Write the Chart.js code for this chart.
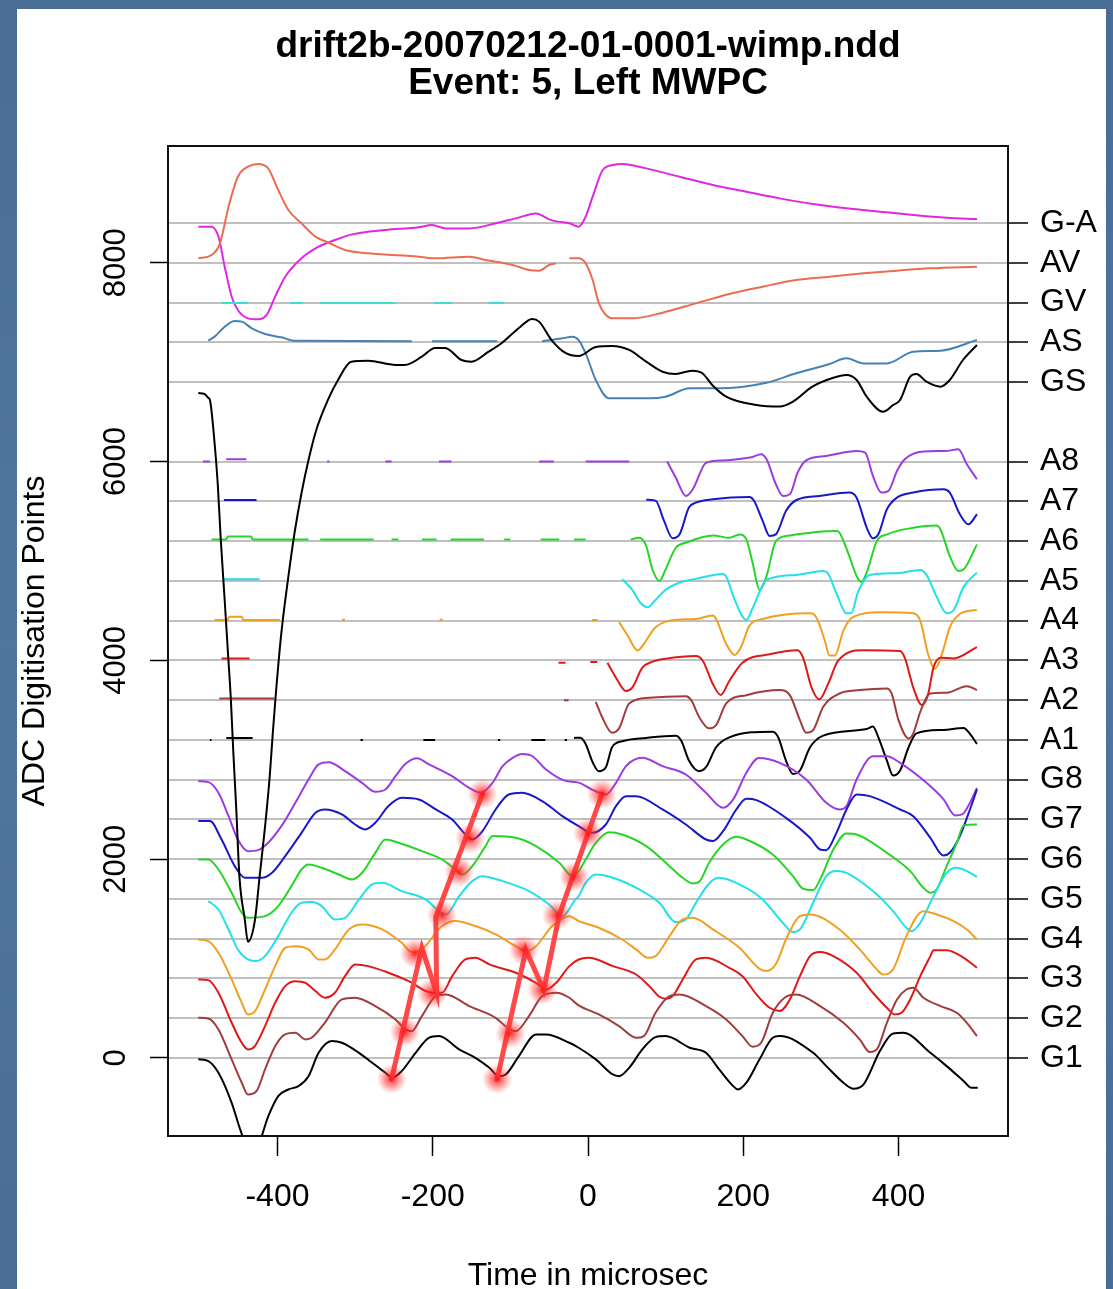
<!DOCTYPE html>
<html><head><meta charset="utf-8">
<script src="https://cdn.jsdelivr.net/npm/chart.js@4.4.1/dist/chart.umd.min.js"></script>
<style>
html,body{margin:0;padding:0;}
body{width:1113px;height:1289px;background:linear-gradient(180deg,#4a6d96,#50769f 50%,#4a6d96);position:relative;overflow:hidden;}
#panel{position:absolute;left:17px;top:9px;width:1089px;height:1280px;background:#fff;}
#c{position:absolute;left:0;top:0;}
</style></head>
<body><div id="panel"></div><canvas id="c" width="1113" height="1289"></canvas>
<script>
// ---------- text ----------
const titleLines = ['drift2b-20070212-01-0001-wimp.ndd', 'Event: 5, Left MWPC'];
const xTitle = 'Time in microsec';
const yTitle = 'ADC Digitisation Points';
const xTickValues = [-400, -200, 0, 200, 400];
const yTickValues = [0, 2000, 4000, 6000, 8000];
const yTickLabels = ['0', '2000', '4000', '6000', '8000'];
const channelNames = ['G1','G2','G3','G4','G5','G6','G7','G8','A1','A2','A3','A4','A5','A6','A7','A8','GS','AS','GV','AV','G-A'];
const channelBaselines = [0,400,800,1200,1600,2000,2400,2800,3200,3600,4000,4400,4800,5200,5600,6000,6800,7200,7600,8000,8400];

// ---------- traces: [time (microsec), ADC value]; null = no sample drawn ----------
const G1 = [[-502,-14],[-489,-31],[-476,-149],[-459,-451],[-448,-719],[-440,-880],[-432,-920],[-424,-860],[-412,-590],[-399,-384],[-386,-317],[-373,-283],[-360,-183],[-347,52],[-330,170],[-317,153],[-295,52],[-278,-48],[-261,-149],[-252,-199],[-240,-132],[-222,52],[-205,203],[-192,220],[-166,86],[-145,2],[-127,-99],[-115,-183],[-106,-166],[-89,19],[-67,237],[-54,237],[-24,153],[-12,103],[10,-14],[32,-166],[40,-183],[53,-99],[70,86],[87,210],[100,220],[131,103],[152,52],[169,-115],[187,-283],[193,-317],[204,-249],[221,-14],[238,203],[247,220],[290,52],[307,-82],[329,-249],[342,-310],[355,-266],[376,69],[393,247],[406,253],[441,52],[462,-82],[484,-233],[494,-300],[502,-300]];
const G2 = [[-502,404],[-489,398],[-476,287],[-459,-15],[-446,-249],[-438,-367],[-427,-333],[-416,-115],[-403,119],[-390,237],[-377,253],[-364,187],[-356,203],[-339,354],[-317,589],[-300,606],[-274,522],[-248,388],[-235,287],[-227,270],[-214,421],[-196,622],[-183,639],[-153,522],[-119,404],[-102,294],[-93,270],[-76,421],[-59,622],[-41,656],[-24,606],[-12,529],[14,438],[40,321],[62,203],[72,220],[87,455],[105,622],[118,639],[152,522],[178,388],[199,220],[212,113],[223,153],[238,455],[255,616],[268,639],[299,522],[329,354],[350,187],[363,59],[372,86],[385,354],[398,589],[410,689],[419,706],[432,606],[454,522],[475,455],[488,354],[501,220]];
const G3 = [[-502,790],[-489,783],[-476,656],[-459,354],[-446,153],[-438,86],[-429,120],[-416,321],[-403,555],[-390,723],[-377,773],[-364,756],[-351,673],[-339,606],[-326,656],[-313,823],[-300,941],[-283,924],[-257,857],[-231,773],[-201,656],[-188,656],[-175,823],[-158,991],[-145,1008],[-127,941],[-93,857],[-67,756],[-54,689],[-41,756],[-24,924],[-12,991],[1,1008],[32,924],[62,840],[79,723],[92,616],[100,596],[109,622],[122,790],[139,991],[152,1008],[182,907],[199,823],[217,639],[234,505],[247,472],[260,589],[273,823],[286,1025],[299,1065],[316,1025],[346,857],[367,656],[385,505],[395,438],[404,455],[415,589],[428,823],[441,1025],[445,1085],[462,1085],[484,1008],[501,907]];
const G4 = [[-502,1192],[-489,1176],[-476,1058],[-459,790],[-446,555],[-438,438],[-429,471],[-416,689],[-403,924],[-390,1109],[-377,1125],[-360,1092],[-347,991],[-339,991],[-326,1092],[-308,1293],[-291,1343],[-265,1293],[-240,1159],[-227,1065],[-214,1092],[-188,1327],[-171,1377],[-145,1327],[-119,1243],[-93,1125],[-80,1075],[-67,1125],[-46,1327],[-24,1427],[-12,1377],[14,1310],[44,1192],[62,1092],[77,1008],[87,1025],[105,1226],[122,1394],[135,1410],[161,1293],[195,1109],[221,897],[230,874],[243,958],[255,1192],[273,1427],[286,1444],[324,1293],[350,1092],[372,891],[380,840],[393,891],[410,1226],[432,1477],[449,1444],[471,1377],[488,1293],[501,1192]];
const G5 = [[-489,1578],[-476,1494],[-463,1293],[-451,1092],[-438,991],[-429,975],[-416,1025],[-399,1226],[-382,1461],[-369,1561],[-356,1568],[-343,1528],[-326,1394],[-313,1410],[-295,1595],[-278,1746],[-265,1762],[-240,1679],[-209,1595],[-192,1477],[-183,1444],[-166,1628],[-149,1779],[-136,1829],[-110,1779],[-76,1679],[-50,1544],[-33,1427],[-16,1595],[-12,1628],[-3,1762],[10,1846],[32,1813],[66,1695],[92,1561],[113,1367],[126,1394],[139,1561],[156,1756],[169,1813],[195,1746],[225,1595],[251,1360],[264,1266],[273,1293],[290,1561],[307,1829],[320,1880],[333,1863],[367,1679],[393,1477],[410,1310],[417,1276],[428,1360],[445,1628],[462,1863],[475,1913],[488,1880],[501,1823]];
const G6 = [[-502,1997],[-489,1997],[-476,1896],[-459,1662],[-446,1461],[-438,1410],[-416,1427],[-399,1528],[-382,1729],[-369,1896],[-360,1947],[-343,1913],[-321,1846],[-304,1796],[-291,1863],[-274,2064],[-261,2198],[-244,2165],[-214,2081],[-188,1997],[-171,1896],[-162,1846],[-149,1930],[-132,2131],[-123,2232],[-93,2215],[-67,2131],[-37,1964],[-20,1829],[-12,1880],[-3,1997],[10,2165],[27,2272],[44,2249],[75,2131],[105,1930],[122,1813],[135,1756],[144,1779],[156,1964],[174,2148],[191,2225],[204,2198],[238,2047],[264,1829],[277,1702],[290,1689],[299,1796],[316,2098],[333,2259],[346,2249],[385,2064],[415,1880],[432,1712],[441,1662],[449,1695],[462,1930],[475,2165],[484,2339],[501,2349]];
const G7 = [[-502,2383],[-487,2383],[-472,2198],[-455,1930],[-442,1813],[-420,1813],[-407,1863],[-390,2031],[-369,2265],[-351,2467],[-339,2500],[-317,2450],[-300,2349],[-287,2299],[-274,2366],[-257,2534],[-240,2617],[-218,2601],[-196,2500],[-175,2399],[-158,2249],[-149,2198],[-136,2282],[-119,2500],[-102,2651],[-85,2668],[-59,2584],[-33,2433],[-12,2332],[5,2265],[23,2349],[36,2534],[49,2634],[62,2634],[96,2500],[126,2349],[152,2198],[161,2182],[174,2282],[191,2500],[204,2607],[217,2594],[255,2416],[286,2215],[299,2098],[307,2091],[320,2265],[333,2500],[346,2651],[363,2634],[402,2500],[419,2433],[441,2215],[458,2037],[466,2064],[479,2232],[492,2500],[501,2701]];
const G8 = [[-502,2785],[-489,2775],[-476,2668],[-463,2433],[-451,2198],[-438,2081],[-425,2091],[-412,2165],[-395,2332],[-377,2567],[-360,2802],[-347,2953],[-334,2976],[-313,2886],[-291,2768],[-274,2678],[-261,2701],[-248,2835],[-235,2960],[-220,3015],[-205,2953],[-175,2835],[-153,2718],[-138,2668],[-123,2768],[-110,2936],[-97,3020],[-85,3058],[-72,3038],[-54,2902],[-30,2790],[-12,2770],[5,2701],[23,2651],[36,2768],[49,2936],[70,3020],[96,2936],[126,2852],[152,2668],[174,2517],[187,2601],[204,2869],[220,3018],[247,2969],[281,2802],[307,2567],[324,2500],[333,2534],[346,2802],[367,3035],[385,3035],[402,2969],[436,2768],[458,2601],[473,2440],[482,2450],[492,2567],[501,2718]];
const A1 = [[-487,3200],[-485,3200],[-480,null],[-466,3220],[-432,3220],[-425,null],[-293,3200],[-290,3200],[-285,null],[-212,3200],[-197,3200],[-190,null],[-116,3200],[-113,3200],[-110,null],[-73,3200],[-55,3200],[-50,null],[-30,3200],[-27,3200],[-24,null],[-18,3220],[-10,3222],[-3,3159],[6,2975],[14,2885],[23,2925],[31,3126],[44,3186],[75,3220],[113,3243],[120,3193],[130,2992],[143,2885],[152,2925],[165,3126],[182,3226],[238,3283],[245,3226],[255,2992],[264,2858],[273,2892],[286,3126],[303,3243],[359,3310],[367,3334],[374,3226],[385,2992],[393,2841],[402,2892],[413,3126],[423,3266],[458,3300],[484,3320],[492,3260],[501,3159]];
const A2 = [[-475,3617],[-404,3617],[-400,null],[-31,3600],[-25,3600],[-20,null],[10,3583],[18,3433],[31,3272],[40,3316],[53,3567],[79,3624],[126,3640],[133,3600],[143,3433],[156,3316],[165,3349],[178,3567],[204,3650],[247,3701],[260,3650],[273,3399],[281,3272],[290,3299],[303,3533],[324,3667],[350,3701],[385,3717],[391,3667],[400,3399],[413,3215],[419,3266],[428,3483],[441,3667],[462,3674],[488,3741],[501,3701]];
const A3 = [[-472,4020],[-436,4020],[-430,null],[-38,3977],[-29,3977],[-20,null],[3,3983],[12,3983],[18,null],[25,3977],[36,3826],[49,3692],[57,3726],[70,3927],[83,3987],[100,4017],[139,4044],[148,3994],[161,3759],[171,3652],[182,3793],[199,3977],[234,4061],[270,4101],[277,4027],[288,3726],[298,3608],[309,3759],[322,3994],[354,4101],[402,4094],[408,4027],[419,3726],[430,3551],[438,3658],[445,3927],[454,4027],[471,4020],[501,4134]];
const A4 = [[-481,4407],[-464,4407],[-462,4440],[-446,4440],[-444,4407],[-397,4407],[-390,null],[-317,4410],[-313,4410],[-310,null],[-191,4410],[-187,4410],[-180,null],[5,4407],[12,4407],[20,null],[40,4385],[51,4251],[64,4100],[72,4167],[87,4333],[113,4407],[139,4417],[161,4451],[165,4417],[178,4166],[189,4055],[197,4132],[208,4350],[225,4417],[286,4474],[294,4434],[305,4200],[311,4049],[318,4049],[329,4300],[341,4434],[376,4484],[419,4474],[428,4400],[438,4066],[447,3915],[456,4066],[466,4333],[479,4467],[501,4508]];
const A5 = [[-470,4817],[-423,4817],[-415,null],[44,4817],[57,4709],[68,4575],[77,4535],[85,4592],[100,4709],[118,4783],[139,4820],[174,4870],[178,4843],[189,4608],[204,4407],[212,4525],[230,4810],[268,4860],[303,4900],[309,4877],[320,4675],[333,4474],[339,4474],[348,4692],[363,4860],[398,4877],[428,4910],[436,4860],[449,4642],[462,4474],[471,4507],[484,4742],[501,4883]];
const A6 = [[-485,5217],[-466,5217],[-464,5247],[-434,5247],[-432,5217],[-360,5217],[-352,null],[-345,5217],[-276,5217],[-270,null],[-253,5217],[-244,5217],[-240,null],[-214,5217],[-195,5217],[-190,null],[-177,5217],[-134,5217],[-120,null],[-108,5217],[-100,5217],[-80,null],[-61,5217],[-37,5217],[-30,null],[-18,5217],[-3,5217],[20,null],[55,5217],[66,5233],[75,5150],[83,4916],[92,4799],[100,4916],[113,5133],[126,5183],[161,5257],[182,5233],[195,5267],[204,5217],[212,4983],[221,4708],[230,4849],[242,5200],[260,5257],[320,5301],[324,5284],[335,5083],[346,4849],[352,4789],[359,4883],[372,5200],[385,5267],[419,5334],[449,5357],[454,5317],[466,5049],[477,4899],[484,4916],[501,5167]];
const A7 = [[-469,5613],[-427,5613],[-420,null],[75,5615],[87,5607],[98,5403],[109,5228],[118,5268],[130,5537],[139,5587],[161,5621],[208,5644],[214,5604],[225,5403],[234,5252],[242,5268],[255,5503],[268,5611],[298,5654],[337,5688],[346,5637],[359,5336],[367,5228],[374,5268],[385,5520],[398,5637],[419,5688],[458,5721],[466,5688],[479,5470],[490,5369],[501,5470]];
const A8 = [[-496,6000],[-487,6000],[-480,null],[-466,6024],[-440,6024],[-435,null],[-336,6000],[-333,6000],[-330,null],[-261,6000],[-253,6000],[-245,null],[-192,6000],[-176,6000],[-170,null],[-63,6000],[-44,6000],[-40,null],[-3,6000],[53,6000],[60,null],[102,6000],[113,5839],[126,5655],[135,5722],[150,5973],[156,5997],[178,6013],[212,6047],[223,6074],[230,6023],[242,5772],[251,5655],[260,5672],[270,5889],[281,6013],[307,6057],[346,6107],[357,6091],[367,5856],[378,5688],[387,5705],[398,5906],[408,6023],[432,6101],[462,6107],[477,6124],[488,5973],[501,5822]];
const GS = [[-502,6690],[-494,6680],[-489,6640],[-487,6620],[-481,6187],[-477,5785],[-473,5211],[-468,4608],[-464,4105],[-460,3602],[-457,3099],[-453,2495],[-449,1824],[-442,1388],[-438,1170],[-429,1388],[-423,1824],[-416,2327],[-410,2830],[-406,3270],[-402,3672],[-395,4276],[-386,4839],[-378,5282],[-369,5684],[-360,6016],[-350,6318],[-335,6620],[-322,6821],[-305,7005],[-283,7015],[-248,6972],[-236,6972],[-214,7055],[-197,7143],[-184,7143],[-163,7022],[-150,7005],[-128,7106],[-111,7193],[-89,7344],[-72,7435],[-63,7408],[-47,7223],[-29,7093],[-12,7062],[10,7153],[31,7163],[53,7123],[75,7005],[96,6904],[113,6881],[134,6915],[147,6891],[160,6771],[178,6653],[217,6569],[247,6553],[264,6603],[289,6754],[315,6841],[333,6871],[346,6821],[359,6653],[380,6502],[393,6569],[402,6620],[415,6854],[423,6881],[436,6804],[454,6754],[466,6821],[483,7022],[501,7173]];
const AS = [[-489,7217],[-481,7257],[-468,7357],[-455,7414],[-446,7408],[-433,7341],[-416,7284],[-395,7250],[-377,7215],[-227,7210],[-220,null],[-201,7210],[-117,7210],[-110,null],[-59,7210],[-33,7240],[-20,7257],[-12,7223],[-3,7089],[10,6821],[27,6636],[44,6636],[79,6636],[100,6653],[131,6737],[169,6737],[230,6794],[268,6888],[311,6982],[333,7039],[355,6988],[385,6988],[419,7106],[454,7116],[501,7223]];
const GV = [[-472,7595],[-438,7595],[-430,null],[-384,7595],[-367,7595],[-360,null],[-345,7595],[-248,7595],[-240,null],[-199,7595],[-175,7595],[-170,null],[-128,7595],[-108,7595]];
const AV = [[-502,8045],[-485,8078],[-474,8196],[-463,8564],[-451,8866],[-438,8967],[-425,8994],[-412,8950],[-399,8732],[-386,8531],[-369,8397],[-351,8263],[-334,8202],[-313,8129],[-283,8095],[-218,8062],[-196,8045],[-153,8062],[-132,8028],[-97,7978],[-76,7927],[-63,7921],[-50,7978],[-41,7994],[-35,null],[-24,8045],[-12,8045],[-3,7994],[6,7827],[14,7592],[23,7475],[32,7441],[57,7441],[96,7498],[139,7592],[182,7686],[225,7760],[268,7827],[311,7860],[355,7894],[398,7921],[441,7944],[501,7961]];
const GA = [[-502,8363],[-485,8363],[-476,8263],[-468,7961],[-459,7659],[-451,7525],[-438,7441],[-425,7431],[-414,7475],[-403,7659],[-390,7860],[-369,8045],[-347,8162],[-326,8229],[-304,8286],[-261,8330],[-218,8357],[-201,8380],[-183,8346],[-153,8346],[-119,8397],[-93,8447],[-67,8497],[-50,8437],[-39,8414],[-24,8397],[-12,8363],[-3,8464],[6,8665],[19,8933],[32,8984],[44,8994],[75,8950],[118,8866],[161,8782],[204,8715],[247,8648],[290,8591],[333,8548],[376,8514],[419,8481],[462,8454],[501,8440]];

// ---------- red hand-drawn annotation (track through the wires) ----------
const track1 = [[-253,-211],[-214,1107],[-195,654],[-196,1418],[-136,2656]];
const track2 = [[-117,-211],[-80,1087],[-57,684],[-37,1439],[18,2656]];
const hits1 = [[-253,-211],[-236,265],[-223,1053],[-201,651],[-188,1439],[-166,1874],[-152,2210],[-136,2656]];
const hits2 = [[-117,-211],[-100,248],[-83,1087],[-59,684],[-40,1439],[-18,1824],[0,2264],[18,2656]];

// ---------- build chart ----------
const pts = a => a.map(p => ({x: p[0], y: p[1]}));
const FONT = '"Liberation Sans", Arial, Helvetica, sans-serif';

const traces = [
  ['GS', GS, '#000000'],
  ['G1', G1, '#000000'], ['G2', G2, '#a03c3c'], ['G3', G3, '#e01818'], ['G4', G4, '#f0a020'],
  ['G5', G5, '#20e0ea'], ['G6', G6, '#26d626'], ['G7', G7, '#1818c8'], ['G8', G8, '#9a3ce0'],
  ['A1', A1, '#000000'], ['A2', A2, '#a03c3c'], ['A3', A3, '#e01818'], ['A4', A4, '#f0a020'],
  ['A5', A5, '#20e0ea'], ['A6', A6, '#26d626'], ['A7', A7, '#1818c8'], ['A8', A8, '#9a3ce0'],
  ['AS', AS, '#4682b4'], ['GV', GV, '#40dcd0'], ['AV', AV, '#ec6c52'], ['G-A', GA, '#e028e0']
];

// glowing point sprite for the annotation hits
const glow = document.createElement('canvas');
glow.width = 30; glow.height = 30;
(() => {
  const g = glow.getContext('2d');
  const rg = g.createRadialGradient(15, 15, 0, 15, 15, 15);
  rg.addColorStop(0, 'rgba(255,20,20,0.95)');
  rg.addColorStop(0.35, 'rgba(255,40,40,0.6)');
  rg.addColorStop(1, 'rgba(255,60,60,0)');
  g.fillStyle = rg; g.fillRect(0, 0, 30, 30);
})();

const datasets = [
  {label: 'hits1', data: pts(hits1), showLine: false, pointStyle: glow, pointRadius: 15, borderWidth: 0},
  {label: 'hits2', data: pts(hits2), showLine: false, pointStyle: glow, pointRadius: 15, borderWidth: 0},
  {label: 'track1', data: pts(track1), borderColor: '#ff4848', borderWidth: 5, pointRadius: 0, borderJoinStyle: 'miter', borderCapStyle: 'round'},
  {label: 'track2', data: pts(track2), borderColor: '#ff4848', borderWidth: 5, pointRadius: 0, borderJoinStyle: 'miter', borderCapStyle: 'round'},
  ...traces.map(([name, arr, col]) => ({label: name, data: pts(arr), borderColor: col, borderWidth: 2, pointRadius: 0,
    spanGaps: false, cubicInterpolationMode: 'monotone'}))
];

const extras = {
  id: 'extras',
  afterDraw(chart) {
    const {ctx, chartArea: a, scales: {y}} = chart;
    ctx.save();
    ctx.font = '31px ' + FONT;
    ctx.fillStyle = '#000';
    ctx.textAlign = 'center';
    ctx.textBaseline = 'alphabetic';
    yTickValues.forEach((v, i) => {
      ctx.save();
      ctx.translate(a.left - 43, y.getPixelForValue(v));
      ctx.rotate(-Math.PI / 2);
      ctx.fillText(yTickLabels[i], 0, 0);
      ctx.restore();
    });
    ctx.strokeStyle = '#111';
    ctx.lineWidth = 2;
    ctx.strokeRect(a.left, a.top, a.right - a.left, a.bottom - a.top);
    ctx.restore();
  }
};

new Chart(document.getElementById('c'), {
  type: 'line',
  data: {datasets},
  plugins: [extras],
  options: {
    responsive: false,
    animation: false,
    events: [],
    layout: {padding: 0},
    elements: {line: {tension: 0, fill: false}},
    plugins: {
      legend: {display: false},
      tooltip: {enabled: false},
      title: {
        display: true, text: titleLines, fullSize: false, color: '#000',
        font: {family: FONT, size: 37, weight: 'bold', lineHeight: 1.0},
        padding: {top: 28, bottom: 44}
      }
    },
    scales: {
      x: {
        type: 'linear', min: -541, max: 541,
        afterBuildTicks: s => { s.ticks = xTickValues.map(v => ({value: v})); },
        afterFit: s => { s.height = 153; },
        grid: {drawOnChartArea: false, drawTicks: true, tickLength: 20, tickColor: '#000', tickWidth: 1.5},
        border: {display: false},
        ticks: {color: '#000', font: {family: FONT, size: 32}, padding: 22, maxRotation: 0, autoSkip: false},
        title: {display: true, text: xTitle, color: '#000', font: {family: FONT, size: 32, lineHeight: 0.8}, padding: {top: 0, bottom: 0}}
      },
      y: {
        type: 'linear', position: 'left', min: -785, max: 9175,
        afterBuildTicks: s => { s.ticks = yTickValues.map(v => ({value: v})); },
        afterFit: s => { s.width = 168; },
        grid: {drawOnChartArea: false, drawTicks: true, tickLength: 18, tickColor: '#000', tickWidth: 1.5},
        border: {display: false},
        ticks: {display: false},
        title: {display: true, text: yTitle, color: '#000', font: {family: FONT, size: 32, lineHeight: 1.2}, padding: {top: 16, bottom: 0}}
      },
      y2: {
        type: 'linear', position: 'right', min: -785, max: 9175,
        afterBuildTicks: s => { s.ticks = channelBaselines.map(v => ({value: v})); },
        afterFit: s => { s.width = 105; },
        grid: {drawOnChartArea: true, color: '#c0c0c0', lineWidth: 2, drawTicks: true, tickLength: 20, tickColor: '#000', tickWidth: 1.5},
        border: {display: false},
        ticks: {color: '#000', font: {family: FONT, size: 32}, padding: 12, autoSkip: false,
                callback: (v, i) => channelNames[i]}
      }
    }
  }
});
</script></body></html>
